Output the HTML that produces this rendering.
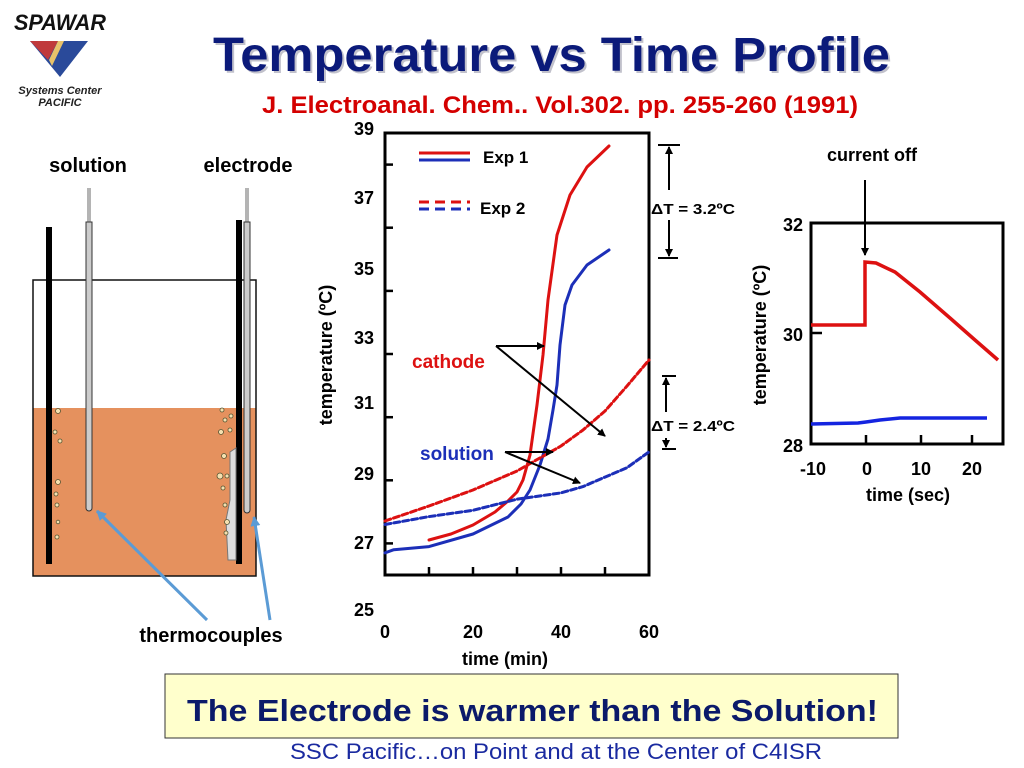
<!DOCTYPE html>
<html><head><meta charset="utf-8"><style>
body{margin:0;width:1024px;height:768px;background:#fff;overflow:hidden;font-family:"Liberation Sans",sans-serif}
svg{position:absolute;left:0;top:0}
</style></head><body>
<svg width="1024" height="768" viewBox="0 0 1024 768" font-family="Liberation Sans, sans-serif" font-weight="bold">
<defs>
<marker id="ah" markerWidth="8" markerHeight="8" refX="7" refY="4" orient="auto" markerUnits="userSpaceOnUse"><path d="M0,0 L8,4 L0,8 z" fill="#000"/></marker>
<marker id="ahb" markerWidth="10" markerHeight="10" refX="9" refY="5" orient="auto" markerUnits="userSpaceOnUse"><path d="M0,0 L10,5 L0,10 z" fill="#5b9bd5"/></marker>
</defs>
<!-- logo -->
<text x="14" y="30" font-size="22" font-style="italic" font-weight="900" fill="#111" textLength="92" lengthAdjust="spacingAndGlyphs">SPAWAR</text>
<polygon points="30,41 88,41 60,77" fill="#2a4a9a"/>
<polygon points="30,41 58,41 48,60" fill="#c0393b"/>
<polygon points="58,41 64,41 52,66 49,60" fill="#e8c26a"/>
<text x="60" y="94" font-size="11" font-style="italic" text-anchor="middle" fill="#222">Systems Center</text>
<text x="60" y="106" font-size="11" font-style="italic" text-anchor="middle" fill="#222">PACIFIC</text>
<!-- title -->
<text x="215" y="73" font-size="48" fill="#99a" opacity="0.6" textLength="677" lengthAdjust="spacingAndGlyphs">Temperature vs Time Profile</text>
<text x="213" y="71" font-size="48" fill="#0b1a7a" textLength="677" lengthAdjust="spacingAndGlyphs">Temperature vs Time Profile</text>
<text x="262" y="113" font-size="24" fill="#d40000" textLength="596" lengthAdjust="spacingAndGlyphs">J. Electroanal. Chem.. Vol.302. pp. 255-260 (1991)</text>
<!-- left diagram -->
<text x="88" y="172" font-size="20" text-anchor="middle">solution</text>
<text x="248" y="172" font-size="20" text-anchor="middle">electrode</text>
<rect x="33" y="408" width="223" height="168" fill="#e5915e"/>
<rect x="33" y="280" width="223" height="296" fill="none" stroke="#111" stroke-width="1.5"/>
<rect x="46" y="227" width="6" height="337" fill="#000"/>
<rect x="236" y="220" width="6" height="344" fill="#000"/>
<g fill="none" stroke="#444" stroke-width="0.8">
<line x1="88" y1="188" x2="88" y2="222"/><line x1="90" y1="188" x2="90" y2="222"/>
<line x1="246" y1="188" x2="246" y2="222"/><line x1="248" y1="188" x2="248" y2="222"/>
</g>
<path d="M86,222 V508 a3,3 0 0 0 6,0 V222 z" fill="#ccc" stroke="#333"/>
<path d="M244,222 V510 a3,3 0 0 0 6,0 V222 z" fill="#ccc" stroke="#333"/>
<path d="M230,452 L236,448 V560 L228,560 L226,520 L230,500 z" fill="#ddd" stroke="#777"/>
<g fill="#f5e0b0" stroke="#553" stroke-width="0.8">
<circle cx="58" cy="411" r="2.5"/><circle cx="55" cy="432" r="2"/><circle cx="60" cy="441" r="2"/><circle cx="58" cy="482" r="2.5"/><circle cx="56" cy="494" r="2"/><circle cx="57" cy="505" r="2"/><circle cx="58" cy="522" r="1.8"/><circle cx="57" cy="537" r="2"/>
<circle cx="222" cy="410" r="2"/><circle cx="225" cy="420" r="2"/><circle cx="231" cy="416" r="2"/><circle cx="221" cy="432" r="2.5"/><circle cx="230" cy="430" r="2"/><circle cx="224" cy="456" r="2.5"/><circle cx="220" cy="476" r="3"/><circle cx="227" cy="476" r="2"/><circle cx="223" cy="488" r="2"/><circle cx="225" cy="505" r="2"/><circle cx="227" cy="522" r="2.5"/><circle cx="226" cy="533" r="2"/>
</g>
<line x1="207" y1="620" x2="97" y2="511" stroke="#5b9bd5" stroke-width="3" marker-end="url(#ahb)"/>
<line x1="270" y1="620" x2="254" y2="517" stroke="#5b9bd5" stroke-width="3" marker-end="url(#ahb)"/>
<text x="211" y="642" font-size="20" text-anchor="middle">thermocouples</text>
<!-- main chart -->
<rect x="385" y="133" width="264" height="442" fill="none" stroke="#000" stroke-width="3"/>
<g stroke="#000" stroke-width="2.5">
<line x1="385" y1="543.4" x2="393" y2="543.4"/><line x1="385" y1="480.3" x2="393" y2="480.3"/><line x1="385" y1="417.2" x2="393" y2="417.2"/><line x1="385" y1="354" x2="393" y2="354"/><line x1="385" y1="290.9" x2="393" y2="290.9"/><line x1="385" y1="227.7" x2="393" y2="227.7"/><line x1="385" y1="164.6" x2="393" y2="164.6"/>
<line x1="429" y1="575" x2="429" y2="567"/><line x1="473" y1="575" x2="473" y2="567"/><line x1="517" y1="575" x2="517" y2="567"/><line x1="561" y1="575" x2="561" y2="567"/><line x1="605" y1="575" x2="605" y2="567"/>
</g>
<g font-size="18" text-anchor="end">
<text x="374" y="135">39</text><text x="374" y="204">37</text><text x="374" y="275">35</text><text x="374" y="344">33</text><text x="374" y="409">31</text><text x="374" y="480">29</text><text x="374" y="549">27</text><text x="374" y="616">25</text>
</g>
<g font-size="18" text-anchor="middle">
<text x="385" y="638">0</text><text x="473" y="638">20</text><text x="561" y="638">40</text><text x="649" y="638">60</text>
<text x="505" y="665">time (min)</text>
</g>
<text transform="translate(332,355) rotate(-90)" font-size="18" text-anchor="middle">temperature (ºC)</text>
<g fill="none" stroke-width="3" stroke-linecap="round" stroke-linejoin="round">
<path stroke="#dd1111" d="M429,540 L451,534 L473,525 L495,512 L508,501 L517,492 L523,480 L530,455 L537,405 L543,355 L548,300 L557,235 L570,195 L587,167 L609,146"/>
<path stroke="#1c2fb8" d="M385,552.9 L393.8,549.7 L429,546.6 L473,534 L508,517 L521,504 L530,490 L540,465 L548,439 L553,410 L557,385 L560,345 L565,305 L572,285 L587,265 L609,250"/>
<path stroke="#dd1111" stroke-dasharray="6,3" d="M385,521 L429,506 L473,490 L517,471 L561,446 L583,430 L605,411 L627,386 L649,360"/>
<path stroke="#1c2fb8" stroke-dasharray="6,3" d="M385,524.5 L429,516.6 L473,510.3 L517,499.2 L561,492.9 L583,486.6 L605,477.1 L627,467.7 L649,451.9"/>
</g>
<!-- legend -->
<line x1="419" y1="153" x2="470" y2="153" stroke="#dd1111" stroke-width="3"/>
<line x1="419" y1="160" x2="470" y2="160" stroke="#1c2fb8" stroke-width="3"/>
<text x="483" y="163" font-size="17">Exp 1</text>
<line x1="419" y1="202" x2="470" y2="202" stroke="#dd1111" stroke-width="3" stroke-dasharray="10,6"/>
<line x1="419" y1="209" x2="470" y2="209" stroke="#1c2fb8" stroke-width="3" stroke-dasharray="10,6"/>
<text x="480" y="214" font-size="17">Exp 2</text>
<!-- delta T -->
<g stroke="#000" stroke-width="2">
<line x1="658" y1="145" x2="680" y2="145"/><line x1="658" y1="258" x2="678" y2="258"/>
<line x1="669" y1="190" x2="669" y2="147" marker-end="url(#ah)"/><line x1="669" y1="220" x2="669" y2="256" marker-end="url(#ah)"/>
<line x1="662" y1="376" x2="676" y2="376"/><line x1="662" y1="449" x2="676" y2="449"/>
<line x1="666" y1="412" x2="666" y2="378" marker-end="url(#ah)"/><line x1="666" y1="438" x2="666" y2="447" marker-end="url(#ah)"/>
</g>
<text x="651" y="214" font-size="15" textLength="84" lengthAdjust="spacingAndGlyphs">ΔT = 3.2ºC</text>
<text x="651" y="431" font-size="15" textLength="84" lengthAdjust="spacingAndGlyphs">ΔT = 2.4ºC</text>
<text x="412" y="368" font-size="19" fill="#dd1111">cathode</text>
<text x="420" y="460" font-size="19" fill="#1c2fb8">solution</text>
<g stroke="#000" stroke-width="2">
<line x1="496" y1="346" x2="544" y2="346" marker-end="url(#ah)"/><line x1="496" y1="346" x2="605" y2="436" marker-end="url(#ah)"/>
<line x1="505" y1="452" x2="553" y2="452" marker-end="url(#ah)"/><line x1="505" y1="452" x2="580" y2="483" marker-end="url(#ah)"/>
</g>
<!-- right chart -->
<text x="872" y="161" font-size="18" text-anchor="middle">current off</text>
<line x1="865" y1="180" x2="865" y2="255" stroke="#000" stroke-width="2" marker-end="url(#ah)"/>
<rect x="811" y="223" width="192" height="221" fill="none" stroke="#000" stroke-width="3"/>
<g stroke="#000" stroke-width="2.5"><line x1="811" y1="333" x2="822" y2="333"/><line x1="866" y1="444" x2="866" y2="435"/><line x1="921" y1="444" x2="921" y2="435"/><line x1="972" y1="444" x2="972" y2="435"/></g>
<g font-size="18" text-anchor="end"><text x="803" y="231">32</text><text x="803" y="341">30</text><text x="803" y="452">28</text></g>
<g font-size="18" text-anchor="middle"><text x="813" y="475">-10</text><text x="867" y="475">0</text><text x="921" y="475">10</text><text x="972" y="475">20</text><text x="908" y="501">time (sec)</text></g>
<text transform="translate(766,335) rotate(-90)" font-size="18" text-anchor="middle">temperature (ºC)</text>
<path d="M811,325 H865 V262 L876,263 L895,272 L920,292 L950,318 L975,340 L998,360" fill="none" stroke="#dd1111" stroke-width="3.5"/>
<path d="M811,424 L858,423 L866,422 L880,420 L900,418 L987,418" fill="none" stroke="#1424e0" stroke-width="3.5"/>
<!-- bottom -->
<rect x="165" y="674" width="733" height="64" fill="#ffffcc" stroke="#333" stroke-width="1"/>
<text x="187" y="721" font-size="31" fill="#0b1a6a" textLength="691" lengthAdjust="spacingAndGlyphs">The Electrode is warmer than the Solution!</text>
<text x="290" y="759" font-size="22" font-weight="normal" fill="#1a2aa0" textLength="532" lengthAdjust="spacingAndGlyphs">SSC Pacific…on Point and at the Center of C4ISR</text>
</svg>
</body></html>
